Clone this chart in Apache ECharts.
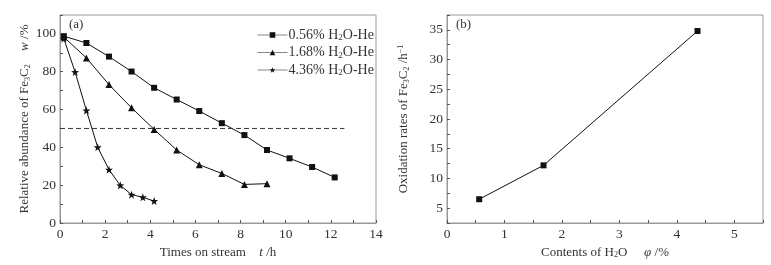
<!DOCTYPE html>
<html>
<head>
<meta charset="utf-8">
<script src="https://cdn.jsdelivr.net/npm/echarts@6/dist/echarts.min.js"></script>
<style>
  html,body{margin:0;padding:0;background:#fff;}
  #main{width:771px;height:265px;}
</style>
</head>
<body>
<div id="main"></div>
<script>
// (a) Fe3C2 abundance vs time on stream
var time056 = [0.17, 1.17, 2.17, 3.17, 4.17, 5.17, 6.17, 7.17, 8.17, 9.17, 10.17, 11.17, 12.17];
var abund056 = [98.8, 95.2, 88.0, 80.1, 71.5, 65.3, 59.2, 52.8, 46.5, 38.6, 34.2, 29.6, 24.1];
var time168 = [0.17, 1.17, 2.17, 3.17, 4.17, 5.17, 6.17, 7.17, 8.17, 9.17];
var abund168 = [98.3, 87.3, 73.2, 60.9, 49.5, 38.6, 30.8, 26.2, 20.4, 20.8];
var time436 = [0.17, 0.67, 1.17, 1.67, 2.17, 2.67, 3.17, 3.67, 4.17];
var abund436 = [97.5, 79.8, 59.5, 40.1, 28.2, 19.9, 15.0, 13.6, 11.6];
var halfX = [0, 12.6];
var halfY = [50, 50];
var seriesNames = ['0.56% H2O-He', '1.68% H2O-He', '4.36% H2O-He'];

// (b) oxidation rate vs water content
var waterContent = [0.56, 1.68, 4.36];
var oxRate = [6.5, 12.2, 34.8];

var FONT = 'Liberation Serif';
var TXT = '#333';
var BOX = '#999';
var star = 'path://M0,-10L2.35,-3.24L9.51,-3.09L3.8,1.24L5.88,8.09L0,4L-5.88,8.09L-3.8,1.24L-9.51,-3.09L-2.35,-3.24Z';

function pairs(xs, ys){
  return xs.map(function(x,i){ return [x, ys[i]]; });
}
var rich = {
  n:{fontFamily:FONT,fontSize:13,color:TXT},
  i:{fontFamily:FONT,fontSize:13,color:TXT,fontStyle:'italic'},
  sub:{fontFamily:FONT,fontSize:8,color:TXT,padding:[6,0,0,0]},
  sup:{fontFamily:FONT,fontSize:8,color:TXT,padding:[0,0,6,0]}
};
var legRich = {
  n:{fontFamily:FONT,fontSize:14,color:TXT},
  sub:{fontFamily:FONT,fontSize:9,color:TXT,padding:[6,0,0,0]}
};
function tickAxis(extra){
  var ax = {
    type:'value',
    axisLine:{show:true,lineStyle:{color:BOX,width:1}},
    axisTick:{show:true,inside:true,length:3,lineStyle:{color:'#555'}},
    splitLine:{show:false},
    axisLabel:{fontFamily:FONT,fontSize:13,color:TXT,margin:4},
    nameLocation:'middle',
    nameTextStyle:{rich:rich}
  };
  for(var k in extra){ ax[k] = extra[k]; }
  return ax;
}

var chart = echarts.init(document.getElementById('main'));
var option = {
  backgroundColor:'#fff',
  animation:false,
  grid:[
    {left:60,right:395,top:15,bottom:42,show:true,borderColor:BOX,borderWidth:1},
    {left:447,right:8,top:15,bottom:42,show:true,borderColor:BOX,borderWidth:1}
  ],
  xAxis:[
    tickAxis({gridIndex:0,min:0,max:14,interval:1,
      axisLabel:{fontFamily:FONT,fontSize:13.5,color:TXT,margin:4,
        formatter:function(v){ return v % 2 === 0 ? String(v) : ''; }},
      name:'{n|Times on stream}    {i|t} {n|/h}',nameGap:22}),
    tickAxis({gridIndex:1,min:0,max:5.5,interval:0.5,
      axisLabel:{fontFamily:FONT,fontSize:13.5,color:TXT,margin:4,
        formatter:function(v){ return (v % 1 === 0 && v <= 5) ? String(v) : ''; }},
      name:'{n|Contents of H}{sub|2}{n|O}     {i|φ} {n|/%}',nameGap:22})
  ],
  yAxis:[
    tickAxis({gridIndex:0,min:0,max:110,interval:10,
      axisLabel:{fontFamily:FONT,fontSize:13.5,color:TXT,margin:4,
        formatter:function(v){ return (v % 20 === 0 && v <= 100) ? String(v) : ''; }},
      name:'{n|Relative abundance of Fe}{sub|3}{n|C}{sub|2}    {i|w} {n|/%}',nameGap:28}),
    tickAxis({gridIndex:1,min:2.5,max:37.5,interval:2.5,
      axisLabel:{fontFamily:FONT,fontSize:13.5,color:TXT,margin:4,
        formatter:function(v){ return (v % 5 === 0) ? String(v) : ''; }},
      name:'{n|Oxidation rates of Fe}{sub|3}{n|C}{sub|2}{n| /h}{sup|−1}',nameGap:36})
  ],
  legend:{
    data:seriesNames,
    orient:'vertical',
    left:252,top:23,
    itemWidth:30,itemHeight:7,itemGap:3,
    lineStyle:{color:'#888',width:1},
    formatter:function(name){ return name.replace('H2O','{n|H}{sub|2}{n|O}').replace(/^([\d.]+%) /,'{n|$1 }').replace('-He','{n|-He}'); },
    textStyle:{fontFamily:FONT,fontSize:14,color:TXT,rich:legRich,padding:[0,0,0,-4]}
  },
  graphic:[
    {type:'text',left:69,top:18,style:{text:'(a)',font:'13px "Liberation Serif"',fill:TXT}},
    {type:'text',left:456,top:18,style:{text:'(b)',font:'13px "Liberation Serif"',fill:TXT}}
  ],
  series:[
    {name:seriesNames[0],type:'line',xAxisIndex:0,yAxisIndex:0,data:pairs(time056,abund056),
      symbol:'rect',symbolSize:6,lineStyle:{color:'#111',width:1},itemStyle:{color:'#111'}},
    {name:seriesNames[1],type:'line',xAxisIndex:0,yAxisIndex:0,data:pairs(time168,abund168),
      symbol:'triangle',symbolSize:7,lineStyle:{color:'#111',width:1},itemStyle:{color:'#111'}},
    {name:seriesNames[2],type:'line',xAxisIndex:0,yAxisIndex:0,data:pairs(time436,abund436),
      symbol:star,symbolSize:8,lineStyle:{color:'#111',width:1},itemStyle:{color:'#111'}},
    {name:'half',type:'line',xAxisIndex:0,yAxisIndex:0,data:pairs(halfX,halfY),
      symbol:'none',lineStyle:{color:'#333',width:1,type:[5,3]}},
    {name:'rate',type:'line',xAxisIndex:1,yAxisIndex:1,data:pairs(waterContent,oxRate),
      symbol:'rect',symbolSize:6,lineStyle:{color:'#111',width:1},itemStyle:{color:'#111'}}
  ]
};
chart.setOption(option);
</script>
</body>
</html>
